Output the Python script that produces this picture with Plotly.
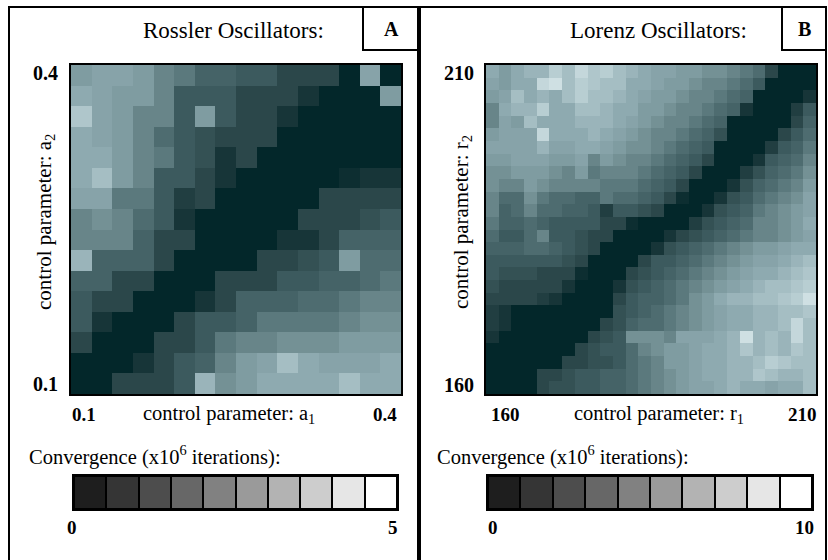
import numpy as np
import plotly.graph_objects as go

W, H = 828, 560

# ---------------- data ----------------
# Panel A: Rossler oscillators, convergence (x10^6 iterations), rows from a2 = 0.4 (top) to 0.1 (bottom)
rossler_z = [
    [3, 3.25, 3.25, 3, 2.5, 2.25, 1.75, 1.75, 1.5, 1.5, 1, 1, 1, 0, 3.25, 0],
    [3.5, 3.25, 3, 3, 2.5, 1.5, 1.5, 1.5, 1, 1, 1, 0.5, 0, 0, 0, 3],
    [4.25, 3.25, 3, 2.5, 2.5, 1.5, 3, 1.5, 1, 1, 0.5, 0, 0, 0, 0, 0],
    [3.5, 3.25, 3, 2.5, 2, 1.5, 1.25, 1, 1, 1, 0, 0, 0, 0, 0, 0],
    [3.5, 3.5, 3, 2.5, 2.25, 1.5, 1.25, 0.5, 1, 0, 0, 0, 0, 0, 0, 0],
    [3.5, 4, 3, 2.5, 1.5, 1.5, 1, 0.5, 0, 0, 0, 0, 0, 0.25, 0.5, 0.5],
    [3.25, 3.25, 2.25, 2.25, 1.5, 0.75, 1, 0, 0, 0, 0, 0, 1, 1, 1, 1],
    [2.5, 2.75, 2.5, 2, 1.5, 0.5, 0, 0, 0, 0, 0, 1, 1, 1, 1.25, 1.5],
    [2.5, 2.5, 2.5, 1.75, 1, 1, 0, 0, 0, 0, 0.5, 0.5, 1, 1.75, 1.75, 1.75],
    [3.75, 1.75, 1.75, 1.75, 1, 0, 0, 0, 0, 1, 1, 1.25, 1.5, 3, 2, 2],
    [1.75, 1.75, 1, 1, 0, 0, 0, 1, 1, 1, 1.5, 1.5, 1.75, 1.75, 2, 2.25],
    [1.5, 1, 1, 0, 0, 0, 0.5, 1, 1.75, 1.75, 1.75, 2, 2, 2.25, 2.5, 2.5],
    [1.5, 0.5, 0, 0, 0, 1, 1.5, 1.5, 1.75, 2.25, 2.25, 2.25, 2.25, 2.5, 2.75, 2.75],
    [1, 0, 0, 0, 1, 1, 1.5, 2.25, 2.5, 2.5, 2.75, 2.75, 2.75, 3, 3, 3],
    [0, 0, 0, 0.5, 1, 1.5, 1.75, 2.5, 3, 3.25, 4, 3.5, 3.25, 3.25, 3.25, 3.5],
    [0, 0, 1, 1, 1, 1.5, 3.75, 2.75, 3, 3.5, 3.5, 3.5, 3.5, 4, 3.5, 3.5],
]
rossler_a1 = np.linspace(0.1, 0.4, 16)
rossler_a2 = np.linspace(0.4, 0.1, 16)

# Panel B: Lorenz oscillators, rows from r2 = 210 (top) to 160 (bottom)
lorenz_z = [
    [7, 6, 7, 7.5, 7.5, 9, 8, 9.5, 8.5, 9, 8, 7.5, 7, 6.5, 6.5, 6, 6, 5.5, 5.5, 5, 4.5, 4, 2, 0, 0, 0],
    [6.5, 6, 7, 7, 9.5, 10, 8, 9, 8.5, 8, 8, 7, 7, 6.5, 6, 6, 5.5, 5, 5, 4.5, 4, 3, 0, 0, 0, 0],
    [6, 6.5, 8, 7, 7.5, 7, 8, 9, 8, 8, 7.5, 7, 6.5, 6, 6, 5.5, 5, 5, 4.5, 4, 3.5, 0, 0, 0, 0, 1],
    [5, 7, 7.5, 7.5, 9, 7, 7, 8, 8, 7.5, 7, 7, 6, 6, 5.5, 5, 5, 4.5, 4, 3.5, 1, 0, 0, 0, 1.5, 3],
    [5, 6.5, 6, 8, 7, 7, 7, 7.5, 7.5, 7.5, 7, 6.5, 6, 5.5, 5, 5, 4.5, 4, 3.5, 0, 0, 0, 0, 0, 2, 3.5],
    [6, 6.5, 6.5, 6.5, 9.5, 7, 7, 7, 7.5, 7, 6.5, 6, 5.5, 5, 5, 4.5, 4, 3.5, 2.5, 0, 0, 0, 0, 2, 3, 4],
    [6.5, 6.5, 6.5, 6.5, 7.5, 6.5, 6.5, 7, 7, 6.5, 6, 5.5, 5.5, 5, 4.5, 4, 3.5, 3, 0, 0, 0, 0, 1.5, 3, 3.5, 4.5],
    [6, 6, 6.5, 6.5, 6.5, 6, 6, 6.5, 5, 6, 5.5, 5, 5, 4.5, 4, 3.5, 3, 2, 0, 0, 0, 1, 3, 3.5, 4, 5],
    [5.5, 5.5, 6, 6, 6, 5.5, 5, 6, 4.5, 5, 5, 5, 4.5, 4, 3.5, 3, 2, 0, 0, 0, 1.5, 2.5, 3.5, 4, 4.5, 5.5],
    [5.5, 5, 5, 6, 5.5, 5, 5, 5, 5, 4.5, 4.5, 4.5, 4, 3.5, 3, 2, 0, 0, 0, 1, 2.5, 3.5, 4, 4.5, 5, 6],
    [5, 4, 4, 5.5, 4.5, 4, 4, 3.5, 3.5, 4.5, 4, 4, 3.5, 3, 2, 0.5, 0, 0, 1, 2.5, 3, 4, 4.5, 5, 5.5, 6.5],
    [5, 3.5, 4, 5, 4, 4, 3.5, 3.5, 3, 1.5, 3, 3, 2.5, 2, 0, 0, 0, 1, 2.5, 3, 3.5, 4.5, 5, 5.5, 6, 6.5],
    [4.5, 3.5, 3.5, 4, 3.5, 3, 3, 3, 3, 2, 2, 0.5, 0, 0, 0, 0, 1.5, 2.5, 3, 3.5, 4, 5, 5, 5.5, 6, 7],
    [4, 3, 3, 4, 5, 3, 3, 2.5, 2, 2, 0, 0, 0, 0, 1, 2, 2.5, 3, 3.5, 4, 4.5, 5, 5, 5.5, 6, 6.5],
    [3.5, 3.5, 3.5, 4, 4, 3.5, 3, 2.5, 2, 0, 0, 0, 0, 1, 2.5, 3, 3.5, 4, 4.5, 5, 5.5, 6, 6, 6.5, 7, 7],
    [3, 3, 3, 3, 3, 3, 2.5, 2, 0, 0, 0, 0, 2, 3, 3, 3.5, 4, 4.5, 5, 5.5, 6, 6.5, 6.5, 7, 7.5, 8],
    [3, 2.5, 2.5, 2.5, 2, 2, 2, 0.5, 0, 0, 0, 2, 2.5, 3, 3.5, 4, 4.5, 5, 5.5, 6, 6.5, 7, 7, 7.5, 8, 8.5],
    [2.5, 2, 2, 2, 2, 2, 1, 0, 0, 0, 1, 2.5, 3, 3.5, 4, 4.5, 5, 5.5, 6, 6.5, 7, 7.5, 8, 8, 8.5, 9],
    [2, 2, 2, 2, 1.5, 1, 0, 0, 0, 0, 2, 3, 3.5, 3.5, 4, 4.5, 5.5, 6, 7, 7.5, 7.5, 8, 8, 8.5, 9, 10],
    [1.5, 1, 0, 0, 0, 0, 0, 0, 0, 0, 2.5, 3, 3.5, 4, 4.5, 5, 5.5, 6, 6.5, 7, 7, 7.5, 7.5, 8, 8, 8.5],
    [1.5, 1, 0, 0, 0, 0, 0, 0, 0, 2, 2.5, 3.5, 4, 4, 4.5, 5, 5.5, 6, 6.5, 7, 7, 7.5, 7.5, 8, 9.5, 8],
    [1, 0, 0, 0, 0, 0, 0, 0, 2, 2.5, 3, 5.5, 5.5, 5.5, 5, 6.5, 6.5, 6.5, 7, 7.5, 10, 7.5, 8, 7.5, 9.5, 8],
    [0, 0, 0, 0, 0, 0, 0, 2, 2.5, 3, 3, 4, 5, 5.5, 6, 6, 6.5, 7, 7, 7.5, 8.5, 7.5, 8, 7.5, 8.5, 8],
    [0, 0, 0, 0, 0, 0, 2, 2, 2.5, 2.5, 3, 4, 4.5, 5, 6, 6, 6.5, 7, 7, 7.5, 7.5, 8, 9, 8.5, 8, 8],
    [0, 0, 0, 0, 2, 2, 2.5, 3, 3, 3.5, 3.5, 4, 4.5, 5, 5.5, 6, 6.5, 7, 7, 7.5, 7.5, 8.5, 8, 7.5, 7.5, 8],
    [0, 0, 0, 0, 2, 2.5, 2.5, 3, 3, 3.5, 3.5, 4, 4.5, 5, 5.5, 6, 6.5, 6.5, 7, 7.5, 7, 7, 6.5, 7, 7, 8],
]
lorenz_r1 = np.linspace(160, 210, 26)
lorenz_r2 = np.linspace(210, 160, 26)

# legend swatches (10 classes) and end labels
legend_classes = list(range(10))
legend_grays = ["#1e1e1e", "#353535", "#4d4d4d", "#676767", "#818181",
                "#9a9a9a", "#b3b3b3", "#cdcdcd", "#e6e6e6", "#ffffff"]
rossler_range = ["0", "5"]
lorenz_range = ["0", "10"]
rossler_ticks = ["0.1", "0.4"]
lorenz_ticks = ["160", "210"]

# --------------- styling ---------------
FONT = "Liberation Serif"
teal_scale = [
    [0.0, "#03272a"], [0.1, "#173538"], [0.2, "#2b474a"], [0.3, "#3c5a5e"],
    [0.4, "#4e6c70"], [0.5, "#688589"], [0.6, "#7f9ca1"], [0.7, "#8eaab0"],
    [0.8, "#a5bec3"], [0.9, "#b8ced2"], [1.0, "#cfe0e3"],
]

def px(x):
    return x / W

def py(y):
    return 1 - y / H

fig = go.Figure()

fig.add_trace(go.Heatmap(z=rossler_z, x=rossler_a1, y=rossler_a2, zmin=0, zmax=5,
                         colorscale=teal_scale, showscale=False, xaxis="x", yaxis="y"))
fig.add_trace(go.Heatmap(z=lorenz_z, x=lorenz_r1, y=lorenz_r2, zmin=0, zmax=10,
                         colorscale=teal_scale, showscale=False, xaxis="x2", yaxis="y2"))

fig.add_trace(go.Bar(x=legend_classes, y=[1] * 10, width=1, marker=dict(color=legend_grays,
                     line=dict(color="black", width=2)), xaxis="x3", yaxis="y3", showlegend=False))
fig.add_trace(go.Bar(x=legend_classes, y=[1] * 10, width=1, marker=dict(color=legend_grays,
                     line=dict(color="black", width=2)), xaxis="x4", yaxis="y4", showlegend=False))

frame = dict(showline=True, mirror=True, linecolor="black", linewidth=2,
             showgrid=False, zeroline=False, showticklabels=False, ticks="")

fig.update_layout(
    width=W, height=H, margin=dict(l=0, r=0, t=0, b=0),
    paper_bgcolor="white", plot_bgcolor="white", showlegend=False,
    bargap=0,
    xaxis=dict(domain=[px(71), px(401)], anchor="y", **frame),
    yaxis=dict(domain=[py(394), py(65)], anchor="x", **frame),
    xaxis2=dict(domain=[px(486), px(816)], anchor="y2", **frame),
    yaxis2=dict(domain=[py(394), py(65)], anchor="x2", **frame),
    xaxis3=dict(domain=[px(74), px(397)], anchor="y3", range=[-0.5, 9.5], **frame),
    yaxis3=dict(domain=[py(509), py(476)], anchor="x3", range=[0, 1], **frame),
    xaxis4=dict(domain=[px(488), px(812)], anchor="y4", range=[-0.5, 9.5], **frame),
    yaxis4=dict(domain=[py(509), py(476)], anchor="x4", range=[0, 1], **frame),
)

# panel frames and label boxes
box = dict(type="rect", xref="paper", yref="paper", line=dict(color="black", width=2),
           fillcolor="rgba(0,0,0,0)")
fig.add_shape(x0=px(9), x1=px(418), y0=py(575), y1=py(7), **box)
fig.add_shape(x0=px(420), x1=px(826), y0=py(575), y1=py(7), **box)
fig.add_shape(x0=px(363), x1=px(418), y0=py(50), y1=py(7), **box)
fig.add_shape(x0=px(782), x1=px(826), y0=py(50), y1=py(7), **box)

def txt(s, x, y, size=20, bold=False, xanchor="center", angle=0):
    if bold:
        s = "<b>" + s + "</b>"
    fig.add_annotation(text=s, x=px(x), y=py(y), xref="paper", yref="paper",
                       xanchor=xanchor, yanchor="middle", showarrow=False, textangle=angle,
                       font=dict(family=FONT, size=size, color="black"))

# Panel A text
txt("Rossler Oscillators:", 234, 30, 23)
txt("A", 391, 29, 20, bold=True)
txt(rossler_ticks[1], 60, 73, 20, bold=True, xanchor="right")
txt(rossler_ticks[0], 60, 384, 20, bold=True, xanchor="right")
txt(rossler_ticks[0], 84, 414, 19, bold=True)
txt(rossler_ticks[1], 385, 414, 19, bold=True)
txt("control parameter: a<sub>1</sub>", 229, 414, 20.5)
txt("control parameter: a<sub>2</sub>", 45, 222, 21, angle=-90)
txt("Convergence (x10<sup>6</sup> iterations):", 155, 455, 20.5)
txt(rossler_range[0], 72, 527, 19, bold=True)
txt(rossler_range[1], 393, 527, 19, bold=True)

# Panel B text
txt("Lorenz Oscillators:", 658, 30, 23)
txt("B", 804, 29, 20, bold=True)
txt(lorenz_ticks[1], 476, 73, 20, bold=True, xanchor="right")
txt(lorenz_ticks[0], 476, 385, 20, bold=True, xanchor="right")
txt(lorenz_ticks[0], 505, 414, 19, bold=True)
txt(lorenz_ticks[1], 802, 414, 19, bold=True)
txt("control parameter: r<sub>1</sub>", 659, 414, 20.5)
txt("control parameter: r<sub>2</sub>", 462, 222, 21, angle=-90)
txt("Convergence (x10<sup>6</sup> iterations):", 563, 455, 20.5)
txt(lorenz_range[0], 493, 527, 19, bold=True)
txt(lorenz_range[1], 804, 527, 19, bold=True)

fig.write_html("out.html", config={"displayModeBar": False},
               post_script="document.body.style.margin='0';document.body.style.overflow='hidden';")
